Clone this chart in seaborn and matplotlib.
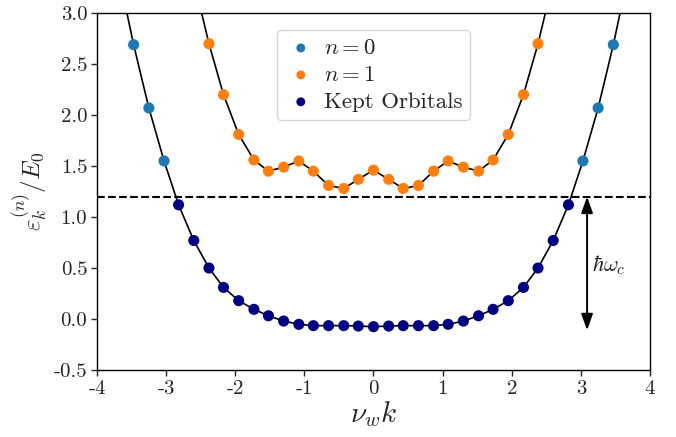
import matplotlib
matplotlib.use("Agg")
import matplotlib.pyplot as plt
import seaborn as sns

k_n0 = [-3.47, -3.25, -3.03, 3.03, 3.25, 3.47]
e_n0 = [2.69, 2.07, 1.55, 1.55, 2.07, 2.69]

k_n1 = [-2.38, -2.17, -1.95, -1.73, -1.52, -1.30, -1.08, -0.87, -0.65, -0.43, -0.22, 0.0,
        0.22, 0.43, 0.65, 0.87, 1.08, 1.30, 1.52, 1.73, 1.95, 2.17, 2.38]
e_n1 = [2.70, 2.20, 1.81, 1.56, 1.45, 1.49, 1.55, 1.45, 1.31, 1.28, 1.37, 1.46,
        1.37, 1.28, 1.31, 1.45, 1.55, 1.49, 1.45, 1.56, 1.81, 2.20, 2.70]

k_kept = [-2.82, -2.60, -2.38, -2.17, -1.95, -1.73, -1.52, -1.30, -1.08, -0.87, -0.65, -0.43, -0.22, 0.0,
          0.22, 0.43, 0.65, 0.87, 1.08, 1.30, 1.52, 1.73, 1.95, 2.17, 2.38, 2.60, 2.82]
e_kept = [1.12, 0.77, 0.50, 0.31, 0.18, 0.095, 0.032, -0.02, -0.052, -0.065, -0.065, -0.065, -0.069, -0.075,
          -0.069, -0.065, -0.065, -0.065, -0.052, -0.02, 0.032, 0.095, 0.18, 0.31, 0.50, 0.77, 1.12]

# dispersion curves (continue past the top of the frame)
k_curve0 = [-3.68] + k_n0[:3] + k_kept + k_n0[3:] + [3.68]
e_curve0 = [3.36] + e_n0[:3] + e_kept + e_n0[3:] + [3.36]
k_curve1 = [-2.60] + k_n1 + [2.60]
e_curve1 = [3.32] + e_n1 + [3.32]

cutoff = 1.2
arrow_x = 3.09
arrow_bottom = -0.11

sns.set_style("ticks")
plt.rcParams["font.family"] = "serif"
plt.rcParams["font.serif"] = ["cmr10", "DejaVu Serif"]
plt.rcParams["mathtext.fontset"] = "cm"
plt.rcParams["axes.unicode_minus"] = False
plt.rcParams["axes.formatter.use_mathtext"] = True

fig = plt.figure(figsize=(6.76, 4.37), dpi=100)
ax = fig.add_axes([0.1435, 0.1533, 0.818, 0.8167])

sns.lineplot(x=k_curve0, y=e_curve0, color="black", linewidth=1.2, sort=False, estimator=None, ax=ax, zorder=1)
sns.lineplot(x=k_curve1, y=e_curve1, color="black", linewidth=1.2, sort=False, estimator=None, ax=ax, zorder=1)

ax.axhline(cutoff, color="black", linestyle="--", linewidth=1.5, zorder=1)

sns.scatterplot(x=k_n0, y=e_n0, color="#1f77b4", s=64, edgecolor="none", label="$n=0$", ax=ax, zorder=3)
sns.scatterplot(x=k_n1, y=e_n1, color="#ff7f0e", s=64, edgecolor="none", label="$n=1$", ax=ax, zorder=3)
sns.scatterplot(x=k_kept, y=e_kept, color="navy", s=64, edgecolor="none", label="Kept Orbitals", ax=ax, zorder=3)

ax.annotate("", xy=(arrow_x, arrow_bottom), xytext=(arrow_x, cutoff),
            arrowprops=dict(arrowstyle="<|-|>,head_width=0.25,head_length=0.7",
                            color="black", lw=1.4, mutation_scale=14,
                            shrinkA=0, shrinkB=0))
ax.text(arrow_x + 0.07, 0.53, r"$\hbar\omega_c$", fontsize=16, va="center", ha="left")

ax.set_xlim(-4, 4)
ax.set_ylim(-0.5, 3.0)
ax.set_xticks(range(-4, 5))
ax.set_yticks([-0.5, 0.0, 0.5, 1.0, 1.5, 2.0, 2.5, 3.0])
ax.set_yticklabels(["-0.5", "0.0", "0.5", "1.0", "1.5", "2.0", "2.5", "3.0"])
ax.set_xticklabels([str(v) for v in range(-4, 5)])
ax.tick_params(labelsize=15, length=4, width=1, direction="out", pad=3)
for sp in ax.spines.values():
    sp.set_visible(True)
    sp.set_linewidth(1.0)
    sp.set_color("black")

ax.set_xlabel(r"$\nu_w k$", fontsize=21, labelpad=1)
ax.set_ylabel(r"$\varepsilon_k^{(n)}/E_0$", fontsize=18, labelpad=3)

ax.legend(loc="upper center", fontsize=16.5, frameon=True, handletextpad=0.3,
          borderpad=0.35, labelspacing=0.3, markerscale=0.8, handlelength=1.4,
          bbox_to_anchor=(0.5, 0.985))

fig.savefig("out.png", dpi=100)
